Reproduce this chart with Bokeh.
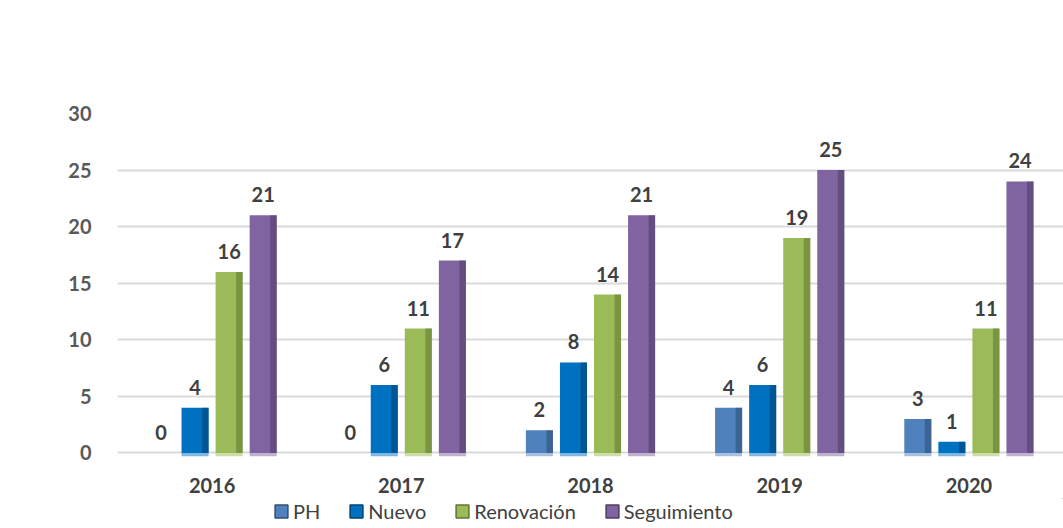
from bokeh.plotting import figure
from bokeh.models import ColumnDataSource, FactorRange, Range1d, Legend, LegendItem, FixedTicker
from bokeh.layouts import column
from bokeh.transform import dodge
from bokeh.core.properties import value
from bokeh.embed import file_html
from bokeh.resources import INLINE

years = ["2016", "2017", "2018", "2019", "2020"]
series = ["PH", "Nuevo", "Renovación", "Seguimiento"]
ph = [0, 0, 2, 4, 3]
nuevo = [4, 6, 8, 6, 1]
renovacion = [16, 11, 14, 19, 11]
seguimiento = [21, 17, 21, 25, 24]
y_ticks = [0, 5, 10, 15, 20, 25, 30]

colors = ["#4f81bd", "#0070c0", "#9bbb59", "#8064a2"]
dark = ["#2c4d75", "#00406e", "#5f7530", "#4d3b63"]
light = ["#a7c0de", "#7fb7e0", "#cddda9", "#bfb1d0"]
FONT = "Lato"

p = figure(x_range=FactorRange(*years, range_padding=0), y_range=Range1d(-0.4, 30),
           width=1063, height=498, output_backend="svg", toolbar_location=None,
           min_border_left=117, min_border_right=0, min_border_top=113, min_border_bottom=41)
p.outline_line_color = None
p.background_fill_color = "white"
p.border_fill_color = "white"

data = [ph, nuevo, renovacion, seguimiento]
offsets = [-0.27, -0.09, 0.09, 0.27]
bw = 0.143
for i, (name, vals) in enumerate(zip(series, data)):
    src = ColumnDataSource(dict(x=years, top=vals, lbl=[str(v) for v in vals],
                                refl=[-0.3 if v > 0 else 0 for v in vals]))
    p.vbar(x=dodge("x", offsets[i], range=p.x_range), top="top", bottom=0, width=bw, source=src,
           fill_color=colors[i], line_color=None)
    p.vbar(x=dodge("x", offsets[i] + bw * 0.38, range=p.x_range), top="top", bottom=0, width=bw * 0.24,
           source=src, fill_color=dark[i], fill_alpha=0.55, line_color=None)
    p.vbar(x=dodge("x", offsets[i], range=p.x_range), top=0, bottom="refl", width=bw, source=src,
           fill_color=light[i], line_color=None)
    p.text(x=dodge("x", offsets[i], range=p.x_range), y="top", text="lbl", source=src,
           text_align="center", text_baseline="bottom", y_offset=-13,
           text_font=value(FONT), text_font_style="bold", text_font_size="20px", text_color="#404040")

p.yaxis.ticker = FixedTicker(ticks=y_ticks)
p.yaxis.axis_line_color = None
p.yaxis.major_tick_line_color = None
p.yaxis.minor_tick_line_color = None
p.yaxis.major_label_standoff = 20
p.yaxis.major_label_text_font = FONT
p.yaxis.major_label_text_font_style = "bold"
p.yaxis.major_label_text_font_size = "20px"
p.yaxis.major_label_text_color = "#595959"

p.xaxis.axis_line_color = None
p.xaxis.major_tick_line_color = None
p.xaxis.major_label_standoff = 14
p.xaxis.major_label_text_font = FONT
p.xaxis.major_label_text_font_style = "bold"
p.xaxis.major_label_text_font_size = "20px"
p.xaxis.major_label_text_color = "#404040"

p.xgrid.grid_line_color = None
p.ygrid.grid_line_color = "#d9d9d9"
p.ygrid.grid_line_width = 2
p.ygrid.ticker = FixedTicker(ticks=y_ticks)

# legend strip below the chart
lf = figure(width=1063, height=30, x_range=Range1d(0, 1), y_range=Range1d(0, 1),
            output_backend="svg", toolbar_location=None,
            min_border_left=117, min_border_right=0, min_border_top=0, min_border_bottom=0)
lf.axis.visible = False
lf.grid.grid_line_color = None
lf.outline_line_color = None
items = []
for i, name in enumerate(series):
    r = lf.vbar(x=[5], top=[5], bottom=[4], width=0.1, fill_color=colors[i],
                line_color=dark[i], line_width=1.5)
    items.append(LegendItem(label=name, renderers=[r]))
legend = Legend(items=items, orientation="horizontal", location=(156, 5),
                label_text_font=FONT, label_text_font_size="20px", label_text_color="#404040",
                glyph_width=16, glyph_height=16, label_standoff=4, spacing=28,
                padding=0, margin=0, border_line_color=None, background_fill_alpha=0)
lf.add_layout(legend)

layout = column(p, lf, spacing=0)
open("out.html", "w").write(file_html(layout, INLINE))
